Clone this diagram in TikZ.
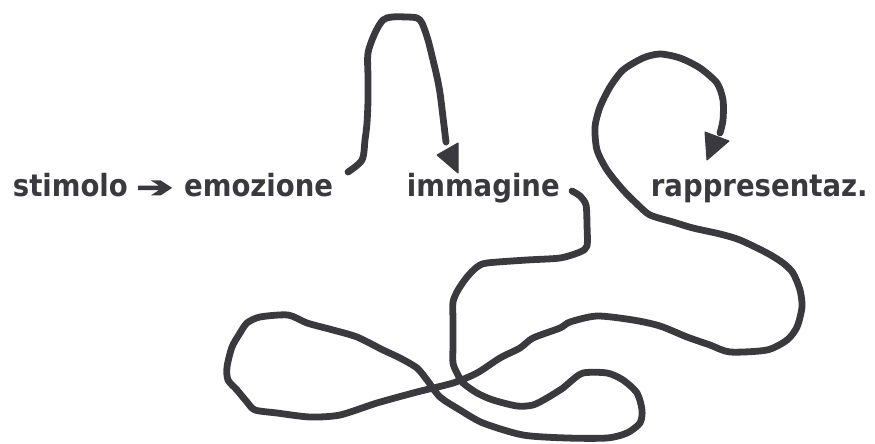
\documentclass[tikz,border=0pt]{standalone}
\usepackage{fontspec}
\usepackage{graphicx}
\setmainfont{DejaVu Sans Condensed}[BoldFont={DejaVu Sans Condensed Bold}]
\newfontfamily\arrowfont{DejaVu Sans}[FakeBold=5]
\definecolor{ink}{RGB}{58,58,62}
\tikzset{
  lbl/.style={anchor=base west, inner sep=0pt, text=ink, font=\bfseries\fontsize{30.6}{36}\selectfont},
  scribble/.style={draw=ink, line width=6.8pt, line cap=round, line join=round},
  tiphead/.style={fill=ink, draw=ink, line width=1pt, line join=round}
}
\begin{document}
\begin{tikzpicture}[x=1pt,y=-1pt]
\useasboundingbox (0,0) rectangle (875,444);
\node[lbl] (stim) at (12.7,196.7) {\makebox[117.3pt][l]{stimolo}\hspace{6.5pt}\raisebox{0pt}{\resizebox{36pt}{15.5pt}{\arrowfont ➔}}\hspace{11.5pt}emozione};
\node[lbl] (imm) at (406.7,196.7) {immagine};
\node[lbl] (rap) at (650.7,196.7) {rappresentaz.};
% hump from emozione to immagine
\draw[scribble] plot[smooth, tension=0.5] coordinates {
 (348,172) (362,160) (365,140) (367,123) (368,100) (368,77) (368,53) (375,33) (383,20) (392,17) (407,17) (417,18) (422,23) (428,40) (433,60) (437,77) (440,93) (443,117) (446,142)};
\fill[tiphead] (458,173) -- (437,155) -- (458,143) -- cycle;
% long scribble from immagine to rappresentaz.
\draw[scribble] plot[smooth, tension=0.45] coordinates {
 (572,191) (580,196) (586,205) (587,225) (587,246) (580,252) (560,258) (527,260) (487,263) (477,267) (467,277) (458,290) (453,302) (453,320) (453,345) (453,363) (457,373) (463,383) (477,393) (493,400) (517,406) (533,405) (547,398) (563,388) (570,382) (583,373) (607,373) (623,380) (637,393) (642,410) (640,423) (627,433) (607,438) (567,438) (523,435) (483,423) (460,410) (440,397) (427,380) (417,368) (400,358) (383,350) (357,337) (333,330) (307,323) (288,315) (260,317) (247,323) (240,333) (232,347) (227,367) (228,380) (237,390) (247,402) (255,410) (277,413) (310,417) (340,415) (377,403) (417,392) (453,383) (477,373) (500,358) (520,348) (533,338) (560,328) (570,322) (597,316) (633,320) (660,326) (687,337) (710,345) (730,352) (767,350) (787,340) (797,327) (802,307) (800,290) (793,273) (783,263) (767,253) (740,240) (720,234) (693,228) (673,222) (650,215) (637,204) (623,190) (607,170) (597,150) (595,127) (600,107) (610,87) (623,70) (643,58) (660,54) (680,58) (700,68) (717,83) (723,100) (723,120) (720,133)};
\fill[tiphead] (707,160) -- (705,132) -- (729,141) -- cycle;
\end{tikzpicture}
\end{document}
